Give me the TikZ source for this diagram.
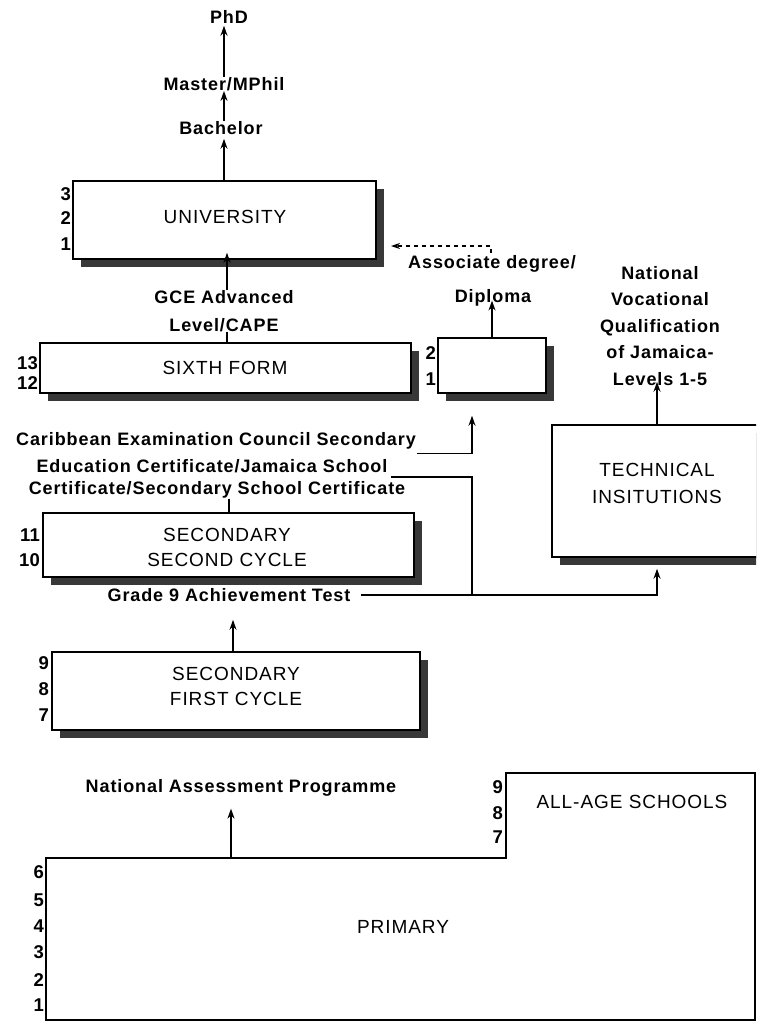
\documentclass[tikz,border=0pt]{standalone}
\usepackage{fontspec}
\setmainfont{Liberation Sans}
\newfontfamily\spf[LetterSpace=5]{Liberation Sans}
\usetikzlibrary{arrows.meta,shadows,calc}
\newcommand{\lblfont}{\spf\bfseries\fontsize{18}{27.5}\selectfont}
\newcommand{\boxfont}{\spf\fontsize{19}{25}\selectfont}
\newcommand{\yrfont}{\bfseries\fontsize{18.5}{18}\selectfont}
\tikzset{
  lbl/.style={font=\lblfont, inner sep=0pt, align=center},
  yr/.style={font=\yrfont, anchor=east, inner sep=0pt},
  shad/.style={drop shadow={shadow xshift=8pt, shadow yshift=-8pt, opacity=1, fill=black!78}},
  box/.style={draw=black, line width=1.5pt, fill=white, shad, inner sep=0pt},
  btxt/.style={font=\boxfont, inner sep=0pt, align=center},
  arr/.style={line width=1.4pt, -{Stealth[length=10pt,width=7pt]}},
  conn/.style={line width=1.4pt},
}
\begin{document}
\begin{tikzpicture}[x=1pt,y=-1pt]
\useasboundingbox (0,0) rectangle (756,1028);
\clip (0,0) rectangle (756,1028);
% top labels
\node[lbl] (phd) at (229,17) {PhD};
\node[lbl] (master) at (224,84) {Master/MPhil};
\node[lbl] (bach) at (221,128) {Bachelor};
% university
\node[box, minimum width=303pt, minimum height=78pt] (univ) at (224.5,220) {};
\node[btxt] (univt) at (225,217) {UNIVERSITY};
\node[yr] (u3) at (71,194) {3};
\node[yr] (u2) at (71,218) {2};
\node[yr] (u1) at (71,244) {1};
\draw[arr] (master.north) -- ([yshift=-2pt]master.north |- phd.south);
\draw[arr] (bach.north -| master.north) -- (master.south);
\draw[arr] (univ.north -| master.north) -- ([yshift=-4pt]bach.south -| master.north);
% GCE
\node[lbl] (gce) at (224,311) {GCE Advanced\\Level/CAPE};
\node[box, minimum width=371pt, minimum height=50pt] (sixth) at (225.5,368) {};
\node[btxt] (sixtht) at (225,368) {SIXTH FORM};
\node[yr] (s13) at (38,363) {13};
\node[yr] (s12) at (38,383) {12};
\draw[arr] ([xshift=3pt]gce.north) -- ([xshift=3pt,yshift=7pt]gce.north |- univ.south);
\draw[conn] ([xshift=3pt]gce.south) -- ([xshift=3pt]gce.south |- sixth.north);
% associate
\node[box, minimum width=108pt, minimum height=55pt] (assoc) at (492,365.5) {};
\node[yr] (a2) at (436,353) {2};
\node[yr] (a1) at (436,379) {1};
\node[lbl] (assocl) at (492,264) {Associate degree/};
\node[lbl] (dipl) at (493,298) {Diploma};
\draw[arr] (assoc.north) -- ([yshift=6pt]assoc.north |- dipl.south);
\coordinate (dstart) at (491,253);
\coordinate (dend) at (391,246);
\draw[line width=1.2pt, dash pattern=on 4pt off 4pt, -{Stealth[length=9pt,width=6pt]}] (dstart) |- (dend);
% NVQ and technical
\node[lbl, font=\spf\bfseries\fontsize{18}{26.5}\selectfont] (nvq) at (660,326) {National\\Vocational\\Qualification\\of Jamaica-\\Levels 1-5};
\node[box, minimum width=210pt, minimum height=132pt] (tech) at (657,491) {};
\node[btxt, font=\spf\fontsize{19}{27}\selectfont] (techt) at (657,483.5) {TECHNICAL\\INSITUTIONS};
\draw[arr] (tech.north) -- ([yshift=4pt]tech.north |- nvq.south);
% CXC lines
\node[lbl] (cxc1) at (216,441) {Caribbean Examination Council Secondary};
\node[lbl] (cxc2) at (212,466) {Education Certificate/Jamaica School};
\node[lbl] (cxc3) at (217,490) {Certificate/Secondary School Certificate};
\coordinate (tapx) at (472,0);
\draw[arr, shorten >=22pt] ([xshift=1pt,yshift=-4pt]cxc1.south east) -| (tapx |- assoc.south);
% secondary second cycle
\node[box, minimum width=371pt, minimum height=64pt] (sec2) at (228.5,545) {};
\node[btxt] (sec2t) at (227,547.5) {SECONDARY\\SECOND CYCLE};
\node[yr] (y11) at (40,535) {11};
\node[yr] (y10) at (40,560) {10};
\draw[conn] (cxc3.south -| 229,0) -- (sec2.north -| 229,0);
% grade 9
\node[lbl] (g9) at (229,595) {Grade 9 Achievement Test};
\draw[arr, shorten >=11pt] ([xshift=10pt]g9.east) -| (tech.south);
\draw[conn] ([xshift=3pt,yshift=-4pt]cxc2.south east) -| (tapx |- g9.east);
% secondary first cycle
\node[box, minimum width=368pt, minimum height=78pt] (sec1) at (236,691) {};
\node[btxt] (sec1t) at (236,686.5) {SECONDARY\\FIRST CYCLE};
\node[yr] (y9) at (49,663) {9};
\node[yr] (y8) at (49,689) {8};
\node[yr] (y7) at (49,715) {7};
\draw[arr, shorten >=18pt] ([xshift=-3pt]sec1.north) -- ([xshift=-3pt]sec1.north |- g9.south);
% primary and all-age
\node[lbl] (nap) at (241,788) {National Assessment Programme};
\coordinate (p1) at (46,1020);
\coordinate (p2) at (46,858);
\coordinate (p3) at (506,858);
\coordinate (p4) at (506,773);
\coordinate (p5) at (755,773);
\coordinate (p6) at (755,1020);
\fill[black!78] ($(p1)+(8,8)$) rectangle ($(p6)+(10,8)$);
\draw[line width=1.5pt, fill=white] (p1) -- (p2) -- (p3) -- (p4) -- (p5) -- (p6) -- cycle;
\coordinate (primtop) at (231,858);
\draw[arr, shorten >=12pt] (primtop) -- (primtop |- nap.south);
\node[btxt] (prim) at (403,927) {PRIMARY};
\node[btxt] (allage) at (632,802) {ALL-AGE SCHOOLS};
\node[yr] (q6) at (44,872) {6};
\node[yr] (q5) at (44,900) {5};
\node[yr] (q4) at (44,926) {4};
\node[yr] (q3) at (44,952) {3};
\node[yr] (q2) at (44,980) {2};
\node[yr] (q1) at (44,1005) {1};
\node[yr] (r9) at (503,787) {9};
\node[yr] (r8) at (503,813) {8};
\node[yr] (r7) at (503,837) {7};
\end{tikzpicture}
\end{document}
